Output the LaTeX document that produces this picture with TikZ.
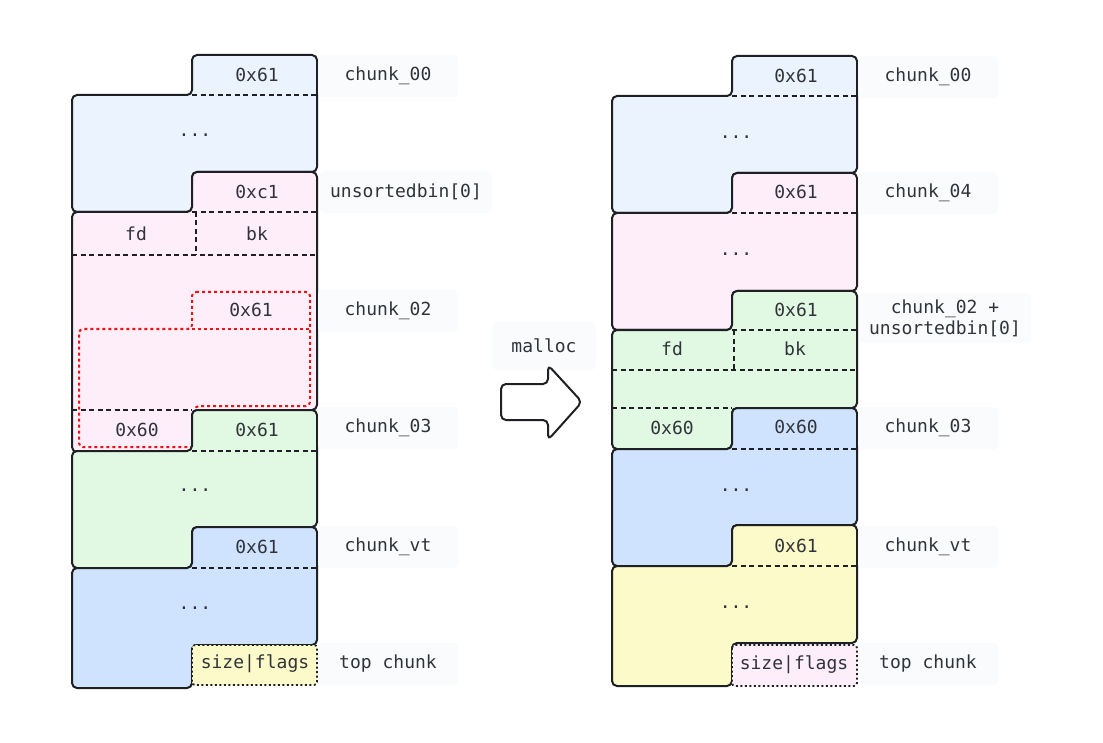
\documentclass[tikz,border=0pt]{standalone}
\usepackage{fontspec}
\setmonofont{DejaVu Sans Mono}
\definecolor{LineDark}{RGB}{30,32,36}
\definecolor{TextGray}{RGB}{48,52,58}
\definecolor{TagBg}{RGB}{250,251,253}
\definecolor{ChunkBlueLight}{RGB}{235,243,254}
\definecolor{ChunkPink}{RGB}{253,238,249}
\definecolor{ChunkGreen}{RGB}{225,249,226}
\definecolor{ChunkBlue}{RGB}{207,226,254}
\definecolor{ChunkYellow}{RGB}{251,250,200}
\definecolor{FakeRed}{RGB}{235,20,20}

\begin{document}
\begin{tikzpicture}[
    x=1pt, y=-1pt,
    font=\ttfamily\fontsize{18}{21}\selectfont,
    chunk/.style={draw=LineDark, line width=2pt, rounded corners=5pt, line join=round},
    sep/.style={draw=LineDark, line width=1.8pt, dash pattern=on 5pt off 3.5pt},
    fakechunk/.style={draw=FakeRed, line width=2pt, dash pattern=on 3pt off 3pt, rounded corners=4pt},
    topbox/.style={draw=LineDark, line width=1.8pt, dash pattern=on 2pt off 2.5pt, rounded corners=3pt},
    field/.style={text=TextGray, inner sep=0pt},
    tag/.style={fill=TagBg, rounded corners=4pt, text=TextGray, minimum width=140pt,
        minimum height=42pt, inner xsep=10pt, align=center},
]
\useasboundingbox (0,0) rectangle (1103,743);

% ---------- before malloc ----------
% chunk_00
\filldraw[chunk, fill=ChunkBlueLight] (192,55) -- (317,55) -- (317,172) -- (192,172)
    -- (192,212) -- (72,212) -- (72,95) -- (192,95) -- cycle;
\draw[sep] (192,95) -- (317,95);
\node[field] (a00size) at (257,75) {0x61};
\node[field] (a00data) at (195,135) {...};

% chunk in unsortedbin
\filldraw[chunk, fill=ChunkPink] (192,172) -- (317,172) -- (317,410) -- (192,410)
    -- (192,452) -- (72,452) -- (72,212) -- (192,212) -- cycle;
\draw[sep] (192,212) -- (317,212);
\draw[sep] (196,212) -- (196,255);
\draw[sep] (72,255) -- (317,255);
\draw[sep] (72,410) -- (192,410);
\node[field] (aubsize) at (257,192) {0xc1};
\node[field] (aubfd) at (136,234) {fd};
\node[field] (aubbk) at (257,234) {bk};

% fake chunk_02 inside the free chunk
\draw[fakechunk] (192,292) -- (310,292) -- (310,406) -- (195,406)
    -- (195,447) -- (79,447) -- (79,329) -- (192,329) -- cycle;
\draw[fakechunk] (192,329) -- (310,329);
\node[field] (a02size) at (251,310) {0x61};
\node[field] (a03prev) at (137,430) {0x60};

% chunk_03
\filldraw[chunk, fill=ChunkGreen] (192,410) -- (317,410) -- (317,527) -- (192,527)
    -- (192,568) -- (72,568) -- (72,451) -- (192,451) -- cycle;
\draw[sep] (192,451) -- (317,451);
\node[field] (a03size) at (257,430) {0x61};
\node[field] (a03data) at (195,490) {...};

% chunk_vt
\filldraw[chunk, fill=ChunkBlue] (192,527) -- (317,527) -- (317,645) -- (192,645)
    -- (192,688) -- (72,688) -- (72,568) -- (192,568) -- cycle;
\draw[sep] (192,568) -- (317,568);
\node[field] (avtsize) at (257,547) {0x61};
\node[field] (avtdata) at (195,608) {...};

% top chunk
\filldraw[topbox, fill=ChunkYellow] (192,645) rectangle (317,685);
\node[field] (atop) at (255,664) {size|flags};

% names
\node[tag] (a00tag) at (388,76) {chunk\_00};
\node[tag] (aubtag) at (406,192) {unsortedbin[0]};
\node[tag] (a02tag) at (388,311) {chunk\_02};
\node[tag] (a03tag) at (388,428) {chunk\_03};
\node[tag] (avttag) at (388,547) {chunk\_vt};
\node[tag] (atoptag) at (388,664) {top chunk};

% ---------- malloc ----------
\node[tag, minimum width=103pt, minimum height=48pt] (malloc) at (544,346) {malloc};
\filldraw[draw=LineDark, fill=white, line width=2pt, rounded corners=5pt, line join=round]
    (501,384) -- (548,384) -- (548,365) -- (582,402) -- (548,440) -- (548,420)
    -- (501,420) -- cycle;

% ---------- after malloc ----------
% chunk_00
\filldraw[chunk, fill=ChunkBlueLight] (732,56) -- (857,56) -- (857,173) -- (732,173)
    -- (732,213) -- (612,213) -- (612,96) -- (732,96) -- cycle;
\draw[sep] (732,96) -- (857,96);
\node[field] (b00size) at (796,76) {0x61};
\node[field] (b00data) at (736,137) {...};

% chunk_04
\filldraw[chunk, fill=ChunkPink] (732,173) -- (857,173) -- (857,291) -- (732,291)
    -- (732,330) -- (612,330) -- (612,213) -- (732,213) -- cycle;
\draw[sep] (732,213) -- (857,213);
\node[field] (b04size) at (796,192) {0x61};
\node[field] (b04data) at (736,254) {...};

% chunk_02, now in unsortedbin
\filldraw[chunk, fill=ChunkGreen] (732,291) -- (857,291) -- (857,408) -- (732,408)
    -- (732,449) -- (612,449) -- (612,330) -- (732,330) -- cycle;
\draw[sep] (732,330) -- (857,330);
\draw[sep] (734,330) -- (734,370);
\draw[sep] (612,370) -- (857,370);
\draw[sep] (612,408) -- (732,408);
\node[field] (b02size) at (796,310) {0x61};
\node[field] (b02fd) at (672,349) {fd};
\node[field] (b02bk) at (795,349) {bk};
\node[field] (b03prev) at (672,428) {0x60};

% chunk_03
\filldraw[chunk, fill=ChunkBlue] (732,408) -- (857,408) -- (857,525) -- (732,525)
    -- (732,566) -- (612,566) -- (612,449) -- (732,449) -- cycle;
\draw[sep] (732,449) -- (857,449);
\node[field] (b03size) at (796,427) {0x60};
\node[field] (b03data) at (736,490) {...};

% chunk_vt
\filldraw[chunk, fill=ChunkYellow] (732,525) -- (857,525) -- (857,643) -- (732,643)
    -- (732,686) -- (612,686) -- (612,566) -- (732,566) -- cycle;
\draw[sep] (732,566) -- (857,566);
\node[field] (bvtsize) at (796,546) {0x61};
\node[field] (bvtdata) at (736,607) {...};

% top chunk
\filldraw[topbox, fill=ChunkPink] (732,645) rectangle (857,686);
\node[field] (btop) at (794,665) {size|flags};

% names
\node[tag] (b00tag) at (928,77) {chunk\_00};
\node[tag] (b04tag) at (928,193) {chunk\_04};
\node[tag, minimum height=50pt, inner ysep=2pt] (b02tag) at (945,318) {chunk\_02 +\\unsortedbin[0]};
\node[tag] (b03tag) at (928,428) {chunk\_03};
\node[tag] (bvttag) at (928,547) {chunk\_vt};
\node[tag] (btoptag) at (928,664) {top chunk};
\end{tikzpicture}
\end{document}
